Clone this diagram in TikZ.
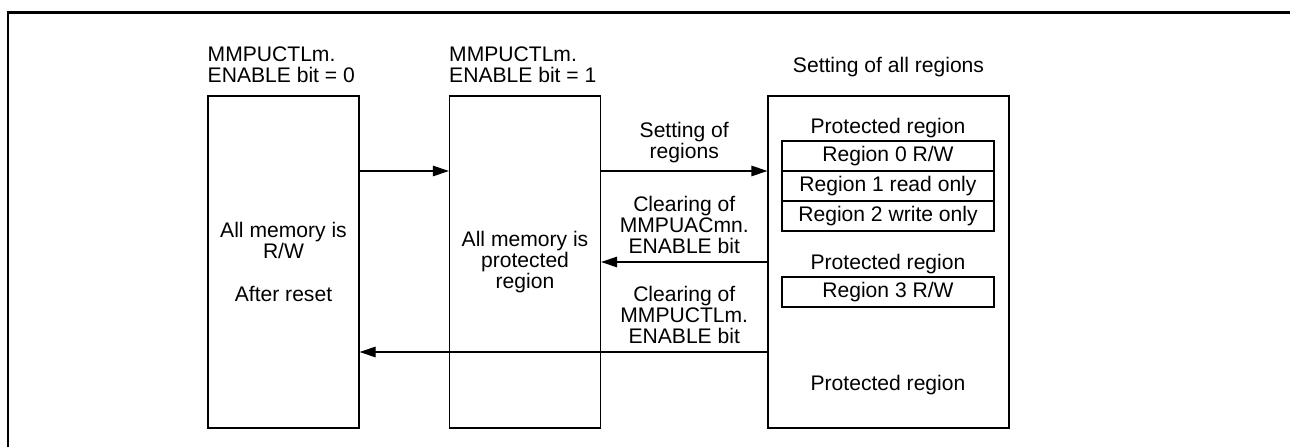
\documentclass[tikz,border=0pt]{standalone}
\usepackage{fontspec}
\setmainfont{Liberation Sans}
\usetikzlibrary{arrows.meta,positioning}
\begin{document}
\begin{tikzpicture}[every node/.style={font=\fontsize{12}{12}\selectfont,inner sep=0pt},
  memblk/.style={draw,line width=0.7pt,minimum width=3.02cm,minimum height=6.64cm,align=center},
  regbox/.style={draw,line width=0.7pt,minimum width=4.24cm,minimum height=0.6cm,outer sep=0pt},
  flow/.style={-{Triangle[length=0.32cm,width=0.21cm]},line width=0.7pt}]
\useasboundingbox (0,0) rectangle (25.8,8.94);
% Frame
\draw[line width=1.5pt] (0.16,0) |- (25.8,8.69);
% Memory states
\node[memblk] (rw) at (5.67,3.7) {All memory is\\R/W\\[12pt]After reset};
\node[memblk] (prot) at (10.5,3.7) {All memory is\\protected\\region};
\node[memblk,minimum width=4.82cm] (allreg) at (17.77,3.7) {};
\node[anchor=south west,align=left] (lblrw) at ([yshift=0.24cm]rw.north west) {MMPUCTLm.\\ENABLE bit = 0};
\node[anchor=south west,align=left] (lblprot) at ([yshift=0.24cm]prot.north west) {MMPUCTLm.\\ENABLE bit = 1};
\node[above=0.37cm of allreg] (lblall) {Setting of all regions};
% Regions
\node (pr1) at (17.76,6.38) {Protected region};
\node[regbox] (r0) at (17.76,5.82) {Region 0 R/W};
\node[regbox,below=0pt of r0] (r1) {Region 1 read only};
\node[regbox,below=0pt of r1] (r2) {Region 2 write only};
\node (pr2) at (17.76,3.66) {Protected region};
\node[regbox] (r3) at (17.76,3.1) {Region 3 R/W};
\node (pr3) at (17.76,1.24) {Protected region};
% Transitions
\draw[flow] ([yshift=1.82cm]rw.east) -- ([yshift=1.82cm]prot.west);
\draw[flow] ([yshift=1.82cm]prot.east) -- ([yshift=1.82cm]allreg.west) node[midway,above=0.15cm,align=center] (lblset) {Setting of\\regions};
\draw[flow] (allreg.west) -- (prot.east) node[midway,above=0.15cm,align=center] (lblclr) {Clearing of\\MMPUACmn.\\ENABLE bit};
\draw[flow] ([yshift=-1.8cm]allreg.west) -- ([yshift=-1.8cm]rw.east);
\path ([yshift=-1.8cm]prot.east) -- ([yshift=-1.8cm]allreg.west) node[midway,above=0.15cm,align=center] (lbloff) {Clearing of\\MMPUCTLm.\\ENABLE bit};
\end{tikzpicture}
\end{document}
